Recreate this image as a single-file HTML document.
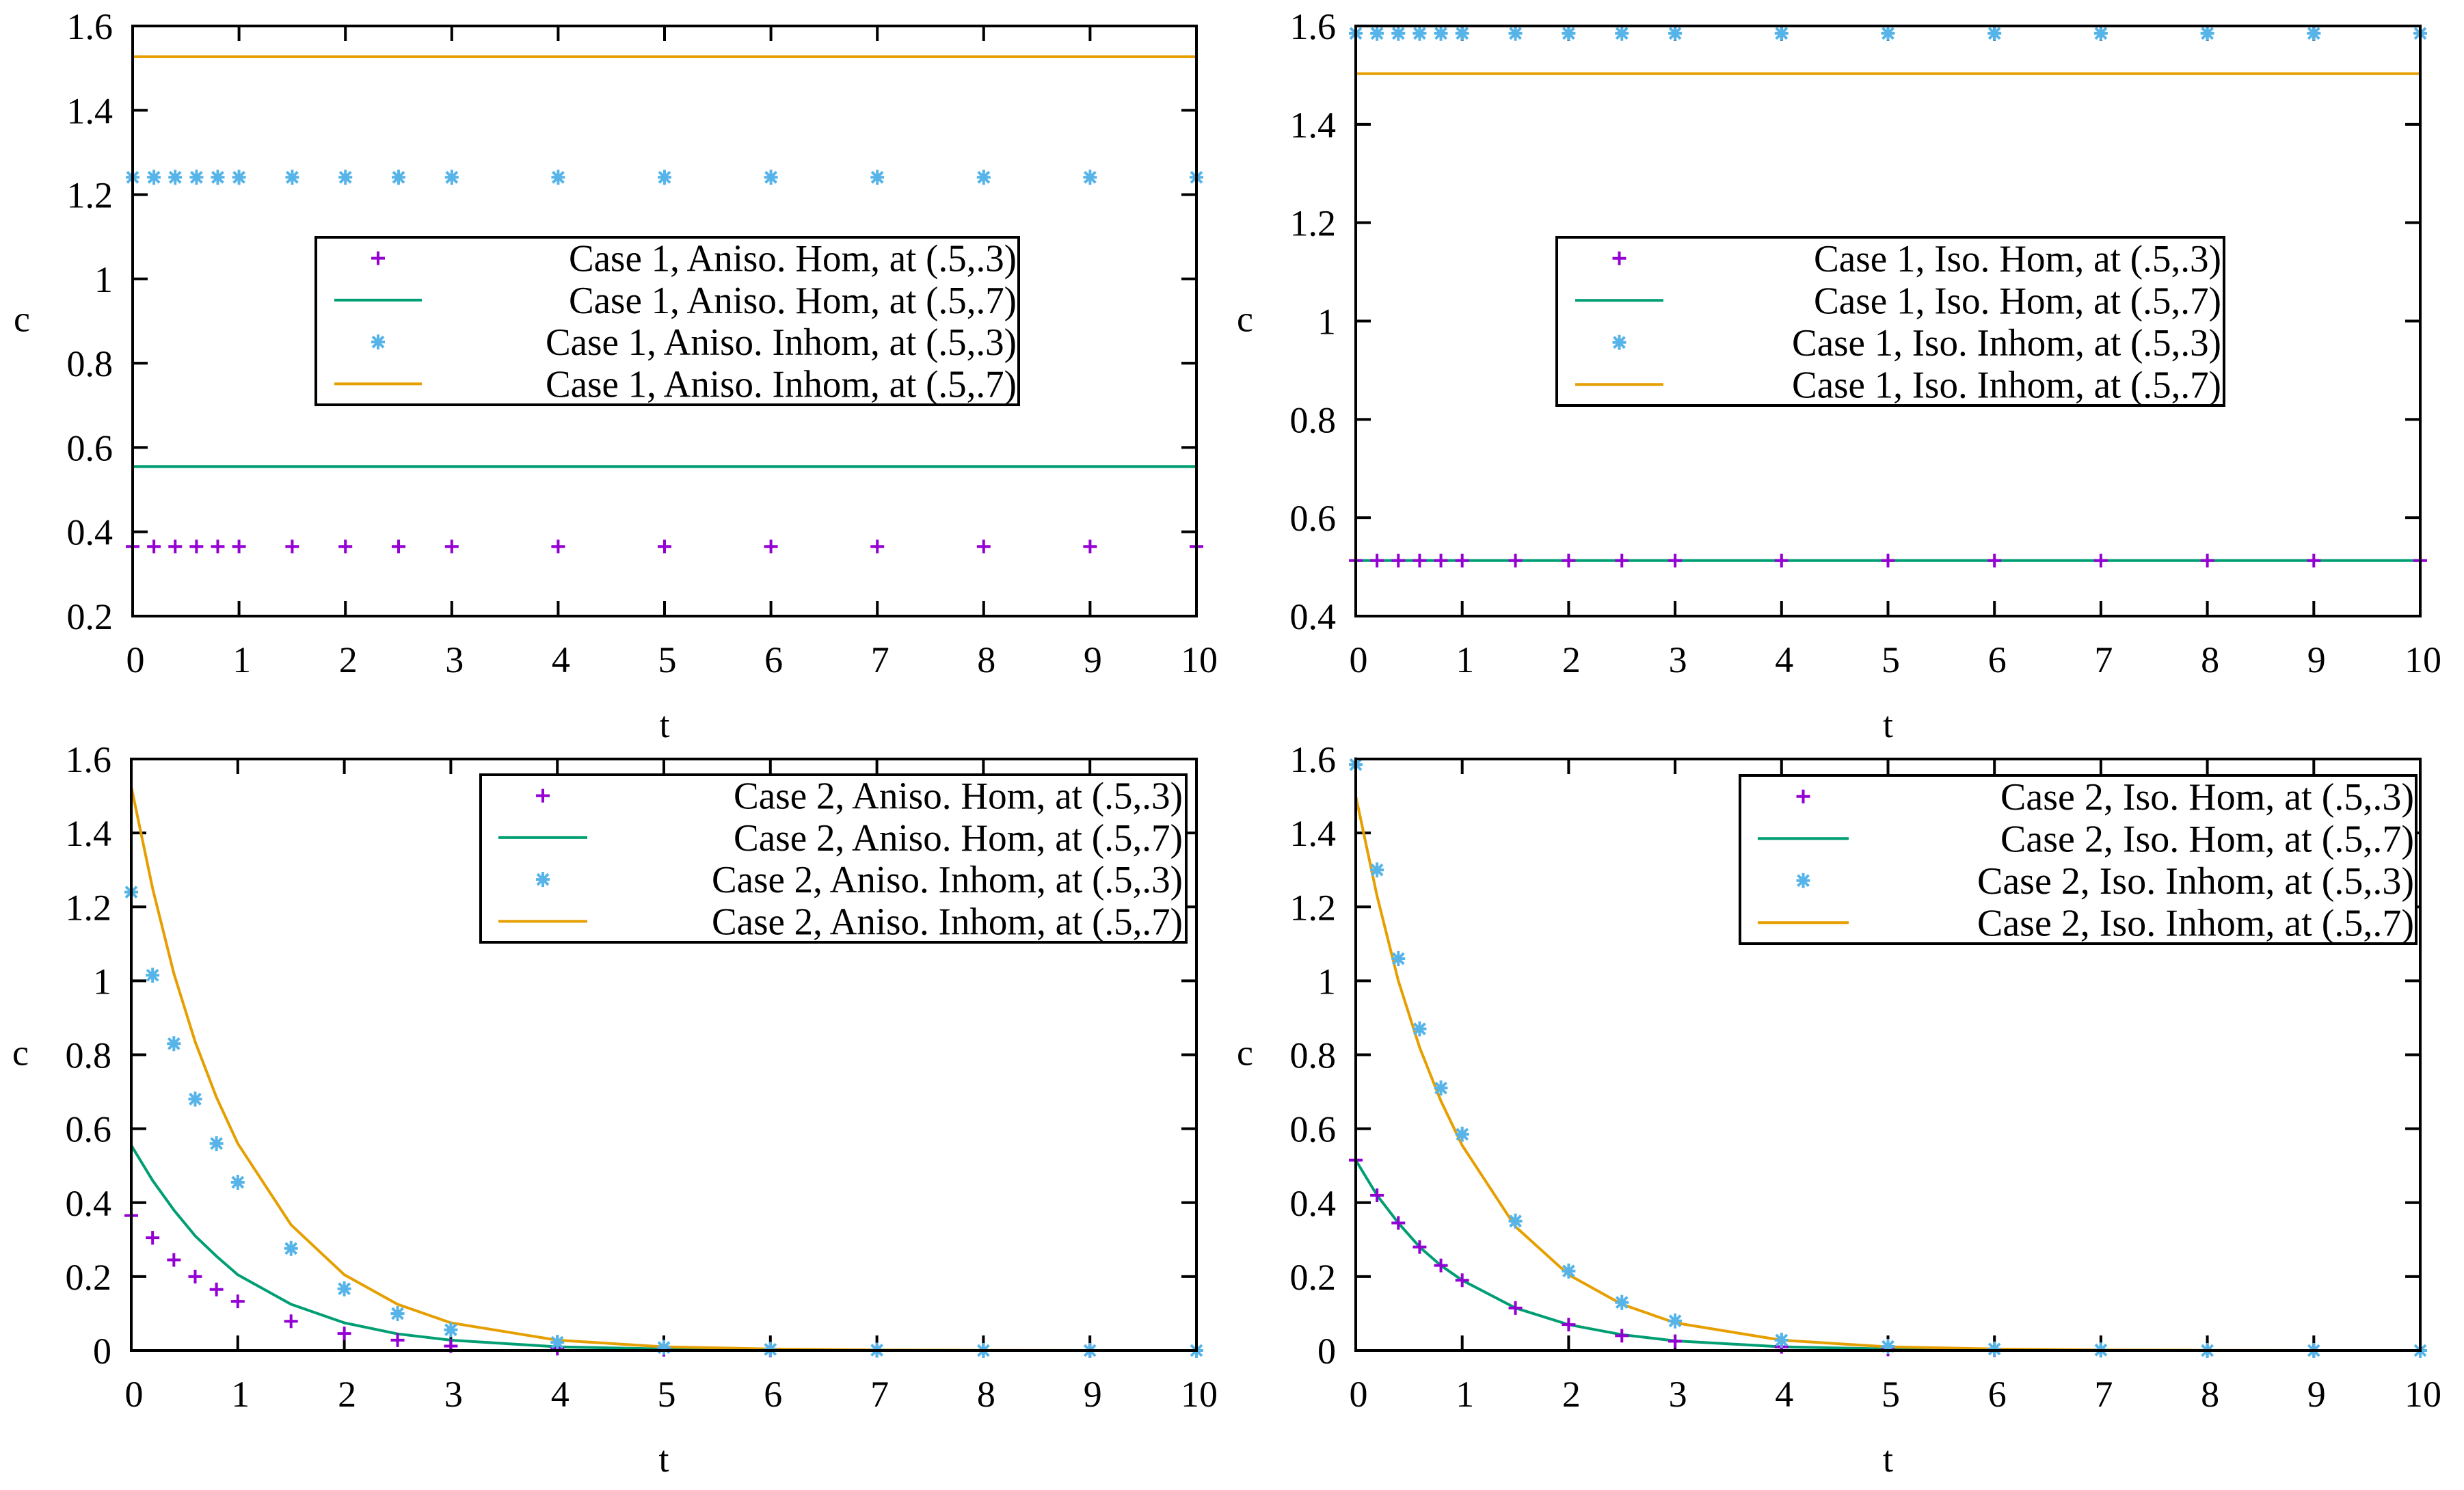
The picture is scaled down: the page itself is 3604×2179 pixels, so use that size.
<!DOCTYPE html>
<html><head><meta charset="utf-8"><title>Case 1 and Case 2 concentration plots</title><style>
html,body{margin:0;padding:0;background:#fff;}
svg{display:block;font-family:"Liberation Serif",serif;}
svg text{font-family:"Liberation Serif",serif;}
</style></head><body>
<svg id="chart" width="3604" height="2179" viewBox="0 0 3604 2179" xmlns="http://www.w3.org/2000/svg" font-family="Liberation Serif, serif"></svg>
<script>
const tVals = [0,0.2,0.4,0.6,0.8,1,1.5,2,2.5,3,4,5,6,7,8,9,10];
const xTicks = [0,1,2,3,4,5,6,7,8,9,10];
const yTicksA = [0.2,0.4,0.6,0.8,1,1.2,1.4,1.6];
const yTicksB = [0.4,0.6,0.8,1,1.2,1.4,1.6];
const yTicksC = [0,0.2,0.4,0.6,0.8,1,1.2,1.4,1.6];

// Panel 1: Case 1 Aniso
const p1HomPts = [0.365,0.365,0.365,0.365,0.365,0.365,0.365,0.365,0.365,0.365,0.365,0.365,0.365,0.365,0.365,0.365,0.365];
const p1HomLine = [0.555,0.555,0.555,0.555,0.555,0.555,0.555,0.555,0.555,0.555,0.555,0.555,0.555,0.555,0.555,0.555,0.555];
const p1InhPts = [1.241,1.241,1.241,1.241,1.241,1.241,1.241,1.241,1.241,1.241,1.241,1.241,1.241,1.241,1.241,1.241,1.241];
const p1InhLine = [1.527,1.527,1.527,1.527,1.527,1.527,1.527,1.527,1.527,1.527,1.527,1.527,1.527,1.527,1.527,1.527,1.527];
// Panel 2: Case 1 Iso
const p2HomPts = [0.513,0.513,0.513,0.513,0.513,0.513,0.513,0.513,0.513,0.513,0.513,0.513,0.513,0.513,0.513,0.513,0.513];
const p2HomLine = [0.513,0.513,0.513,0.513,0.513,0.513,0.513,0.513,0.513,0.513,0.513,0.513,0.513,0.513,0.513,0.513,0.513];
const p2InhPts = [1.585,1.585,1.585,1.585,1.585,1.585,1.585,1.585,1.585,1.585,1.585,1.585,1.585,1.585,1.585,1.585,1.585];
const p2InhLine = [1.503,1.503,1.503,1.503,1.503,1.503,1.503,1.503,1.503,1.503,1.503,1.503,1.503,1.503,1.503,1.503,1.503];
// Panel 3: Case 2 Aniso
const p3HomPts = [0.365,0.305,0.245,0.2,0.165,0.133,0.079,0.046,0.028,0.012,0.005,0.002,0,0,0,0,0];
const p3HomLine = [0.555,0.46,0.38,0.31,0.255,0.205,0.125,0.075,0.045,0.028,0.01,0.004,0.0015,0,0,0,0];
const p3InhPts = [1.24,1.015,0.83,0.68,0.56,0.455,0.276,0.167,0.1,0.056,0.022,0.008,0.003,0.001,0,0,0];
const p3InhLine = [1.525,1.25,1.02,0.835,0.685,0.56,0.34,0.205,0.125,0.075,0.028,0.01,0.004,0.0015,0.0005,0,0];
// Panel 4: Case 2 Iso
const p4HomPts = [0.515,0.42,0.345,0.28,0.23,0.19,0.115,0.07,0.04,0.025,0.01,0.003,0.001,0,0,0,0];
const p4HomLine = [0.515,0.42,0.345,0.28,0.23,0.19,0.115,0.07,0.043,0.026,0.01,0.004,0.0014,0,0,0,0];
const p4InhPts = [1.585,1.30,1.06,0.87,0.71,0.585,0.35,0.215,0.13,0.08,0.028,0.011,0.004,0.0015,0,0,0];
const p4InhLine = [1.50,1.23,1.0,0.82,0.675,0.555,0.335,0.205,0.125,0.075,0.028,0.01,0.004,0.0015,0.0005,0,0];

const labels1 = ["Case 1, Aniso. Hom, at (.5,.3)","Case 1, Aniso. Hom, at (.5,.7)","Case 1, Aniso. Inhom, at (.5,.3)","Case 1, Aniso. Inhom, at (.5,.7)"];
const labels2 = ["Case 1, Iso. Hom, at (.5,.3)","Case 1, Iso. Hom, at (.5,.7)","Case 1, Iso. Inhom, at (.5,.3)","Case 1, Iso. Inhom, at (.5,.7)"];
const labels3 = ["Case 2, Aniso. Hom, at (.5,.3)","Case 2, Aniso. Hom, at (.5,.7)","Case 2, Aniso. Inhom, at (.5,.3)","Case 2, Aniso. Inhom, at (.5,.7)"];
const labels4 = ["Case 2, Iso. Hom, at (.5,.3)","Case 2, Iso. Hom, at (.5,.7)","Case 2, Iso. Inhom, at (.5,.3)","Case 2, Iso. Inhom, at (.5,.7)"];

const NS = "http://www.w3.org/2000/svg";
const svg = document.getElementById("chart");
const PURPLE="#9400d3", GREEN="#009e73", BLUE="#56b4e9", ORANGE="#e69f00";
const FONT = "Liberation Serif, serif";

function mk(tag, attrs, parent){
  const e = document.createElementNS(NS, tag);
  for (const k in attrs) e.setAttribute(k, attrs[k]);
  if (tag === "text") e.setAttribute("font-family", FONT);
  (parent||svg).appendChild(e);
  return e;
}
function plus(g, x, y, c){
  return mk("path", {d:`M${x-10},${y}H${x+10}M${x},${y-10}V${y+10}`, stroke:c, "stroke-width":4, fill:"none"}, g);
}
function star(g, x, y, c){
  const d = `M${x-10},${y}H${x+10}M${x},${y-11}V${y+11}M${x-8},${y-8}L${x+8},${y+8}M${x-8},${y+8}L${x+8},${y-8}`;
  return mk("path", {d:d, stroke:c, "stroke-width":4, fill:"none"}, g);
}

function panel(cfg){
  const {L,R,T,B,ymin,ymax,yTicks,name} = cfg;
  const xs = t => L + (t-0)/(10-0)*(R-L);
  const ys = v => B - (v-ymin)/(ymax-ymin)*(B-T);
  const g = mk("g", {});
  
  

  const tg = mk("g", {stroke:"#000","stroke-width":4}, g);
  
  
  xTicks.forEach(t=>{
    const x = xs(t);
    mk("line",{x1:x,y1:B,x2:x,y2:B-22},tg);
    mk("line",{x1:x,y1:T,x2:x,y2:T+22},tg);
    const lb = mk("text",{x:x+4,y:B+82,"font-size":54,"text-anchor":"middle",fill:"#000"},g);
    lb.textContent = String(t);
    
    
  });
  yTicks.forEach(v=>{
    const y = ys(v);
    mk("line",{x1:L,y1:y,x2:L+22,y2:y},tg);
    mk("line",{x1:R,y1:y,x2:R-22,y2:y},tg);
    const lb = mk("text",{x:L-29,y:y+19,"font-size":54,"text-anchor":"end",fill:"#000"},g);
    lb.textContent = String(v);
    
    
  });
  const xt = mk("text",{x:(L+R)/2,y:B+177,"font-size":54,"text-anchor":"middle"},g);
  xt.textContent = "t";
  
  
  const yt = mk("text",{x:L-162,y:(T+B)/2+15,"font-size":54,"text-anchor":"middle"},g);
  yt.textContent = "c";
  
  

  const lineSer = (vals, c, nm) => {
    const d = vals.map((v,i)=>(i?"L":"M")+xs(tVals[i]).toFixed(1)+","+ys(v).toFixed(1)).join("");
    const p = mk("path",{d:d,stroke:c,"stroke-width":4,fill:"none","stroke-linejoin":"round"},g);
    
    
  };
  const ptSer = (vals, c, fn, nm) => {
    const sg = mk("g",{},g);
    
    
    vals.forEach((v,i)=>{
      const m = fn(sg, xs(tVals[i]), ys(v), c);
      
      
    });
  };
  lineSer(cfg.homLine, GREEN, "hom-07-line");
  lineSer(cfg.inhLine, ORANGE, "inhom-07-line");
  ptSer(cfg.homPts, PURPLE, plus, "hom-03-points");
  ptSer(cfg.inhPts, BLUE, star, "inhom-03-points");

  const fr = mk("rect",{x:L,y:T,width:R-L,height:B-T,fill:"none",stroke:"#000","stroke-width":4},g);
  
  

  const lg = cfg.leg;
  const leg = mk("g",{},g);
  
  
  mk("rect",{x:lg.x1,y:lg.y1,width:lg.x2-lg.x1,height:lg.y2-lg.y1,fill:"#fff",stroke:"#000","stroke-width":4},leg);
  const rowH = (lg.y2-lg.y1)/4;
  const cols = [PURPLE,GREEN,BLUE,ORANGE];
  for (let i=0;i<4;i++){
    const cy = lg.y1 + rowH*(i+0.5);
    const ent = mk("g",{},leg);
    
    
    const mx = (lg.s1+lg.s2)/2;
    if (i===0) plus(ent, mx, cy, cols[i]);
    else if (i===2) star(ent, mx, cy, cols[i]);
    else mk("line",{x1:lg.s1,y1:cy,x2:lg.s2,y2:cy,stroke:cols[i],"stroke-width":4},ent);
    const tx = mk("text",{x:lg.tx,y:cy+19,"font-size":56,"text-anchor":"end",textLength:lg.w[i],lengthAdjust:"spacingAndGlyphs"},ent);
    tx.textContent = cfg.labels[i];
  }
}

panel({name:"panel-case1-aniso",L:194,R:1750,T:38,B:901,ymin:0.2,ymax:1.6,yTicks:yTicksA,
  homPts:p1HomPts,homLine:p1HomLine,inhPts:p1InhPts,inhLine:p1InhLine,labels:labels1,
  leg:{x1:462,x2:1490,y1:347,y2:592,s1:489,s2:617,tx:1487,w:[655,655,689,689]}});
panel({name:"panel-case1-iso",L:1983,R:3540,T:38,B:901,ymin:0.4,ymax:1.6,yTicks:yTicksB,
  homPts:p2HomPts,homLine:p2HomLine,inhPts:p2InhPts,inhLine:p2InhLine,labels:labels2,
  leg:{x1:2277,x2:3253,y1:347,y2:593,s1:2304,s2:2433,tx:3249,w:[596,596,628,628]}});
panel({name:"panel-case2-aniso",L:192,R:1750,T:1110,B:1975,ymin:0,ymax:1.6,yTicks:yTicksC,
  homPts:p3HomPts,homLine:p3HomLine,inhPts:p3InhPts,inhLine:p3InhLine,labels:labels3,
  leg:{x1:703,x2:1735,y1:1133,y2:1378,s1:729,s2:859,tx:1730,w:[657,657,689,689]}});
panel({name:"panel-case2-iso",L:1983,R:3540,T:1110,B:1975,ymin:0,ymax:1.6,yTicks:yTicksC,
  homPts:p4HomPts,homLine:p4HomLine,inhPts:p4InhPts,inhLine:p4InhLine,labels:labels4,
  leg:{x1:2545,x2:3534,y1:1134,y2:1380,s1:2571,s2:2704,tx:3531,w:[605,605,639,639]}});
</script>
</body></html>
